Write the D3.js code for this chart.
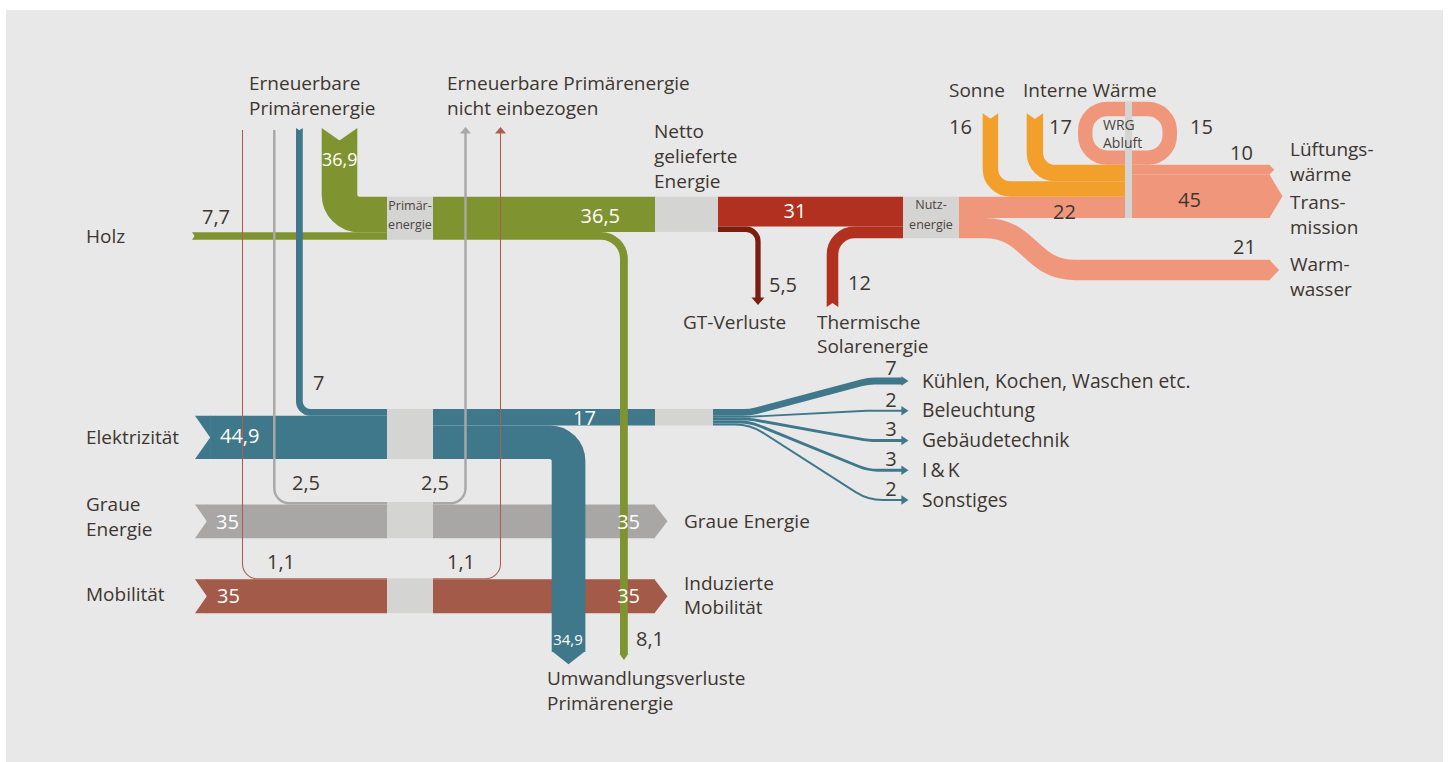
<!DOCTYPE html>
<html lang="de">
<head>
<meta charset="utf-8">
<title>Energiefluss</title>
<script src="https://cdn.jsdelivr.net/npm/d3@7"></script>
<style>
  body { margin: 0; background: #fff; }
  svg text { font-family: 'Open Sans', 'Noto Sans', sans-serif; }
</style>
</head>
<body>
<div id="chart"></div>
<script>
// Werte in kWh/(m²·a)
const quellNamen = ['Holz', 'Elektrizität', 'Graue Energie', 'Mobilität'];
const quellWerte = [7.7, 44.9, 35, 35];
const erneuerbarWerte = [36.9, 7, 2.5, 1.1];      // grün, Strom, grau, Mobilität
const nichtEinbezogen = [2.5, 1.1];               // grau, Mobilität
const primaerAus = [36.5, 8.1];                   // netto geliefert, Umwandlungsverluste
const stromAus = [17, 34.9];                      // Strom netto, Umwandlungsverluste
const nettoAus = [31, 5.5];                       // Nutzenergie, GT-Verluste
const solarWert = 12;
const nutzAus = [22, 21];                         // Raumwärme, Warmwasser
const gewinnNamen = ['Sonne', 'Interne Wärme'];
const gewinnWerte = [16, 17];
const wrgWert = 15;
const waermeNamen = ['Lüftungs-\nwärme', 'Trans-\nmission'];
const waermeWerte = [10, 45];
const stromNamen = ['Kühlen, Kochen, Waschen etc.', 'Beleuchtung', 'Gebäudetechnik', 'I\u2009&\u2009K', 'Sonstiges'];
const stromWerte = [7, 2, 3, 3, 2];

const farbe = {
    gruen: '#7f9431', knoten: '#d4d4d3', teal: '#3f788b', grau: '#a8a7a5',
    mob: '#a35a48', rot: '#b2301f', dunkelrot: '#7a1f10', rosa: '#f0967a',
    orange: '#f2a02b', text: '#3d3631', hinter: '#e8e8e8'
};

const fmt = v => String(v).replace('.', ',');

// Strangbreite aus dem Wert
const w = d3.scaleLinear().domain([0, 1]).range([0, 0.965]);

// Spalten und Zeilen der Anordnung
const xLinks = 195, xP0 = 387, xP1 = 433, xN0 = 655, xN1 = 718;
const xU0 = 903, xU1 = 959, xW0 = 1125, xW1 = 1132, xEnde = 1270;
const yOben = 196.7, yStrom = 409, yGrau = 502, yMob = 578.3;

const svg = d3.select('#chart').append('svg')
    .attr('width', 1449)
    .attr('height', 762);

svg.append('rect')
    .attr('x', 6).attr('y', 10)
    .attr('width', 1437).attr('height', 752)
    .attr('fill', farbe.hinter);

const L1 = svg.append('g');   // Balken
const L2 = svg.append('g');   // kreuzende Stränge
const L3 = svg.append('g');   // dünne Linien
const LK = svg.append('g');   // Knoten
const LT = svg.append('g');   // Texte

// Polylinie mit runden Ecken
function biege(punkte, r) {
    const p = d3.path();
    p.moveTo(punkte[0][0], punkte[0][1]);
    for (let i = 1; i < punkte.length - 1; i++) {
        p.arcTo(punkte[i][0], punkte[i][1], punkte[i + 1][0], punkte[i + 1][1], r);
    }
    const z = punkte[punkte.length - 1];
    p.lineTo(z[0], z[1]);
    return p.toString();
}

function fluss(ebene, punkte, wert, f, r) {
    return ebene.append('path')
        .attr('d', biege(punkte, r || 0))
        .attr('fill', 'none')
        .attr('stroke', f)
        .attr('stroke-width', w(wert));
}

function form(ebene, x, y, winkel, punkte, f) {
    ebene.append('polygon')
        .attr('points', punkte.map(p => p.join(',')).join(' '))
        .attr('transform', `translate(${x},${y}) rotate(${winkel})`)
        .attr('fill', f);
}

// Kerbe am Anfang eines Strangs, gibt den Punkt dahinter zurück
function kerbe(ebene, x, y, winkel, wert, f) {
    const h = w(wert) / 2, d = h * 0.7;
    form(ebene, x, y, winkel, [[0, -h], [d + 0.6, -h], [d + 0.6, h], [0, h], [d, 0]], f);
    const rad = winkel * Math.PI / 180;
    return [x + d * Math.cos(rad), y + d * Math.sin(rad)];
}

// Pfeilspitze am Ende eines Strangs
function spitze(ebene, x, y, winkel, halb, laenge, f) {
    form(ebene, x, y, winkel, [[-0.6, -halb], [laenge, 0], [-0.6, halb]], f);
}
function pfeil(ebene, x, y, winkel, wert, f) {
    const h = w(wert) / 2;
    spitze(ebene, x, y, winkel, h, Math.min(12.5, h * 0.9), f);
}

function text(x, y, zeilen, opt = {}) {
    const t = LT.append('text')
        .attr('x', x).attr('y', y)
        .attr('text-anchor', opt.anchor || 'start')
        .style('font-size', (opt.size || 19) + 'px')
        .style('fill', opt.fill || farbe.text);
    String(zeilen).split('\n').forEach((z, i) => {
        t.append('tspan').attr('x', x).attr('dy', i ? (opt.lh || 25) : 0).text(z);
    });
}

// ---- Holz und erneuerbare Primärenergie ----
const yErn = yOben + w(erneuerbarWerte[0]) / 2;
const xErn = 321.7 + w(erneuerbarWerte[0]) / 2;
let s = kerbe(L1, xErn, 128, 90, erneuerbarWerte[0], farbe.gruen);
fluss(L1, [s, [xErn, yErn], [xP0, yErn]], erneuerbarWerte[0], farbe.gruen, w(erneuerbarWerte[0]) / 2 + 2);

const yHolz = yOben + w(erneuerbarWerte[0]) + w(quellWerte[0]) / 2;
s = kerbe(L1, xLinks - 3, yHolz, 0, quellWerte[0], farbe.gruen);
fluss(L1, [s, [xP0, yHolz]], quellWerte[0], farbe.gruen);

// Primärenergie -> netto geliefert
const yPN = yOben + w(primaerAus[0]) / 2;
fluss(L1, [[xP1, yPN], [xN0, yPN]], primaerAus[0], farbe.gruen);

// Netto -> Nutzenergie und GT-Verluste
const yNU = yOben + w(nettoAus[0]) / 2;
fluss(L1, [[xN1, yNU], [xU0, yNU]], nettoAus[0], farbe.rot);
const yGT = yOben + w(nettoAus[0]) + w(nettoAus[1]) / 2;
fluss(L1, [[xN1, yGT], [758, yGT], [758, 298]], nettoAus[1], farbe.dunkelrot, 12);
spitze(L1, 758, 298, 90, 6.5, 7, farbe.dunkelrot);

// Thermische Solarenergie
const xSol = 826.7 + w(solarWert) / 2;
const ySol = yOben + w(nettoAus[0]) + w(solarWert) / 2;
s = kerbe(L1, xSol, 307, -90, solarWert, farbe.rot);
fluss(L1, [s, [xSol, ySol], [xU0, ySol]], solarWert, farbe.rot, 22);

// Nutzenergie -> Raumwärme / Warmwasser
const yRW = yOben + w(nutzAus[0]) / 2;
fluss(L1, [[xU1, yRW], [xW0, yRW]], nutzAus[0], farbe.rosa);
const yWW0 = yOben + w(nutzAus[0]) + w(nutzAus[1]) / 2;
const yWW1 = 270;
L1.append('path')
    .attr('d', `M${xU1},${yWW0}L985,${yWW0}C1030,${yWW0} 1030,${yWW1} 1075,${yWW1}L${xEnde},${yWW1}`)
    .attr('fill', 'none')
    .attr('stroke', farbe.rosa)
    .attr('stroke-width', w(nutzAus[1]));
pfeil(L1, xEnde, yWW1, 0, nutzAus[1], farbe.rosa);

// Wärmegewinne
const gewinnX = [982.7, 1026.7];
let yStapel = yOben;
gewinnWerte.forEach((v, i) => {
    const yg = yStapel - w(v) / 2;
    yStapel -= w(v);
    const xg = gewinnX[i] + w(v) / 2;
    const st = kerbe(L1, xg, 113.3, 90, v, farbe.orange);
    fluss(L1, [st, [xg, yg], [xW0, yg]], v, farbe.orange, 20);
});

// Wärmerückgewinnung (Schleife)
const tRing = w(wrgWert);
const yRingUnten = yStapel - tRing / 2;
const yRingOben = 101.7 + tRing / 2;
L1.append('rect')
    .attr('x', 1078 + tRing / 2)
    .attr('y', yRingOben)
    .attr('width', 1177 - 1078 - tRing)
    .attr('height', yRingUnten - yRingOben)
    .attr('rx', 22)
    .attr('fill', 'none')
    .attr('stroke', farbe.rosa)
    .attr('stroke-width', tRing);

// Lüftungswärme und Transmission
let yRechts = yOben + w(nutzAus[0]);
[1, 0].forEach(i => {
    const v = waermeWerte[i];
    const y = yRechts - w(v) / 2;
    yRechts -= w(v);
    fluss(L1, [[xW1, y], [xEnde, y]], v, farbe.rosa);
    pfeil(L1, xEnde, y, 0, v, farbe.rosa);
});

// ---- Elektrizität ----
const yElek = yStrom + w(erneuerbarWerte[1]) + w(quellWerte[1]) / 2;
s = kerbe(L1, xLinks, yElek, 0, quellWerte[1], farbe.teal);
fluss(L1, [s, [xP0, yElek]], quellWerte[1], farbe.teal);
const yS17 = yStrom + w(stromAus[0]) / 2;
fluss(L1, [[xP1, yS17], [xN0, yS17]], stromAus[0], farbe.teal);

// Aufteilung des Stroms
const yZiel = d3.scalePoint().domain(stromNamen).range([381, 500]);
let yFan = yStrom;
stromWerte.forEach((v, i) => {
    const y0 = yFan + w(v) / 2;
    yFan += w(v);
    const y1 = yZiel(stromNamen[i]);
    fluss(L1, [[713, y0], [750, y0], [868, y1], [902, y1]], v, farbe.teal, 50);
    spitze(L1, 902, y1, 0, Math.max(4.8, w(v) / 2), 6.5, farbe.teal);
    text(891, y1 - w(v) / 2 - 3, v, { anchor: 'middle', size: 20 });
    text(922, y1 + 6.5, stromNamen[i], { size: 19.3 });
});

// ---- Graue Energie und Mobilität ----
[[2, yGrau, farbe.grau], [3, yMob, farbe.mob]].forEach(([i, y0, f]) => {
    const y = y0 + w(erneuerbarWerte[i]) + w(quellWerte[i]) / 2;
    const st = kerbe(L1, xLinks, y, 0, quellWerte[i], f);
    fluss(L1, [st, [xP0, y]], quellWerte[i], f);
    fluss(L1, [[xP1, y], [xN0, y]], quellWerte[i], f);
    pfeil(L1, xN0, y, 0, quellWerte[i], f);
});

// ---- Kreuzende Stränge ----
const xT7 = 296 + w(erneuerbarWerte[1]) / 2;
const yT7 = yStrom + w(erneuerbarWerte[1]) / 2;
s = kerbe(L2, xT7, 128, 90, erneuerbarWerte[1], farbe.teal);
fluss(L2, [s, [xT7, yT7], [xP0, yT7]], erneuerbarWerte[1], farbe.teal, 11);

const xTV = 551.7 + w(stromAus[1]) / 2;
const yTV = yStrom + w(stromAus[0]) + w(stromAus[1]) / 2;
fluss(L2, [[xP1, yTV], [xTV, yTV], [xTV, 651.7]], stromAus[1], farbe.teal, w(stromAus[1]) / 2 + 2);
pfeil(L2, xTV, 651.7, 90, stromAus[1], farbe.teal);

const xGV = 620 + w(primaerAus[1]) / 2;
const yGV = yOben + w(primaerAus[0]) + w(primaerAus[1]) / 2;
fluss(L2, [[xP1, yGV], [xGV, yGV], [xGV, 655]], primaerAus[1], farbe.gruen, 23);
spitze(L2, xGV, 655, 90, w(primaerAus[1]) / 2, 5, farbe.gruen);

// ---- Dünne Linien: erneuerbar, nicht einbezogen ----
const duenn = [
    { i: 2, y0: yGrau, xl: 274.3, xr: 465.5, f: '#a9a8a6' },
    { i: 3, y0: yMob, xl: 242.5, xr: 500.5, f: '#ad5f4d' }
];
duenn.forEach((d, j) => {
    const y = d.y0 + w(erneuerbarWerte[d.i]) / 2;
    fluss(L3, [[d.xl, 130], [d.xl, y], [xP0, y]], erneuerbarWerte[d.i], d.f, 15);
    fluss(L3, [[xP1, y], [d.xr, y], [d.xr, 133]], nichtEinbezogen[j], d.f, 15);
    spitze(L3, d.xr, 133, -90, 5.5, 6, d.f);
});

// ---- Knoten ----
const knoten = [
    [xP0, yOben, xP1 - xP0, w(erneuerbarWerte[0] + quellWerte[0])],
    [xN0, yOben, xN1 - xN0, w(primaerAus[0])],
    [xU0, yOben, xU1 - xU0, w(nettoAus[0] + solarWert)],
    [xW0, 101.7, xW1 - xW0, yOben + w(nutzAus[0]) - 101.7],
    [xP0, yStrom, xP1 - xP0, w(erneuerbarWerte[1] + quellWerte[1])],
    [xN0, yStrom, 713 - xN0, w(stromAus[0])],
    [xP0, yGrau, xP1 - xP0, w(erneuerbarWerte[2] + quellWerte[2])],
    [xP0, yMob, xP1 - xP0, w(erneuerbarWerte[3] + quellWerte[3])]
];
LK.selectAll('rect')
    .data(knoten)
    .enter()
    .append('rect')
    .attr('x', d => d[0]).attr('y', d => d[1])
    .attr('width', d => d[2]).attr('height', d => d[3])
    .attr('fill', farbe.knoten);

// ---- Texte ----
text(410, 209.5, 'Primär-\nenergie', { anchor: 'middle', size: 12.5, lh: 19, fill: '#4a4440' });
text(931, 209, 'Nutz-\nenergie', { anchor: 'middle', size: 12.5, lh: 20, fill: '#4a4440' });
text(1103, 130, 'WRG\nAbluft', { size: 14, lh: 18, fill: '#4a4440' });

text(249, 90, 'Erneuerbare\nPrimärenergie');
text(447, 90, 'Erneuerbare Primärenergie\nnicht einbezogen');
text(654, 138, 'Netto\ngelieferte\nEnergie');
text(949, 97, gewinnNamen[0]);
text(1023, 97, gewinnNamen[1]);
text(1290, 156, waermeNamen[0]);
text(1290, 208.5, waermeNamen[1]);
text(1290, 270.5, 'Warm-\nwasser');
text(683, 328.5, 'GT-Verluste');
text(817, 328.5, 'Thermische\nSolarenergie', { lh: 24 });
text(86, 242.5, quellNamen[0]);
text(86, 443.5, quellNamen[1]);
text(86, 510.5, 'Graue\nEnergie');
text(86, 600.5, quellNamen[3]);
text(684, 527.5, quellNamen[2]);
text(684, 589.5, 'Induzierte\nMobilität', { lh: 24 });
text(547, 684.5, 'Umwandlungsverluste\nPrimärenergie');

// Zahlen dunkel
const dz = { size: 20 };
text(202, 223.5, fmt(quellWerte[0]), dz);
text(313, 390, fmt(erneuerbarWerte[1]), dz);
text(292, 490, fmt(erneuerbarWerte[2]), dz);
text(421, 490, fmt(nichtEinbezogen[0]), dz);
text(267, 569, fmt(erneuerbarWerte[3]), dz);
text(447, 569, fmt(nichtEinbezogen[1]), dz);
text(769, 292, fmt(nettoAus[1]), dz);
text(848, 290, fmt(solarWert), dz);
text(949, 134, fmt(gewinnWerte[0]), dz);
text(1049, 134, fmt(gewinnWerte[1]), dz);
text(1190, 134, fmt(wrgWert), dz);
text(1230, 160, fmt(waermeWerte[0]), dz);
text(1178, 207, fmt(waermeWerte[1]), dz);
text(1053, 219, fmt(nutzAus[0]), dz);
text(1233, 254, fmt(nutzAus[1]), dz);
text(636, 646, fmt(primaerAus[1]), dz);

// Zahlen weiß
const wz = { size: 20, fill: '#ffffff' };
text(322, 166, fmt(erneuerbarWerte[0]), { size: 18, fill: '#ffffff' });
text(620, 223, fmt(primaerAus[0]), Object.assign({ anchor: 'end' }, wz));
text(795, 218, fmt(nettoAus[0]), Object.assign({ anchor: 'middle' }, wz));
text(220, 443, fmt(quellWerte[1]), wz);
text(216, 529, fmt(quellWerte[2]), wz);
text(217, 603, fmt(quellWerte[3]), wz);
text(584.5, 425, fmt(stromAus[0]), Object.assign({ anchor: 'middle' }, wz));
text(640, 529, fmt(quellWerte[2]), Object.assign({ anchor: 'end' }, wz));
text(640, 603, fmt(quellWerte[3]), Object.assign({ anchor: 'end' }, wz));
text(568, 645, fmt(stromAus[1]), { anchor: 'middle', size: 15, fill: '#ffffff' });
</script>
</body>
</html>
